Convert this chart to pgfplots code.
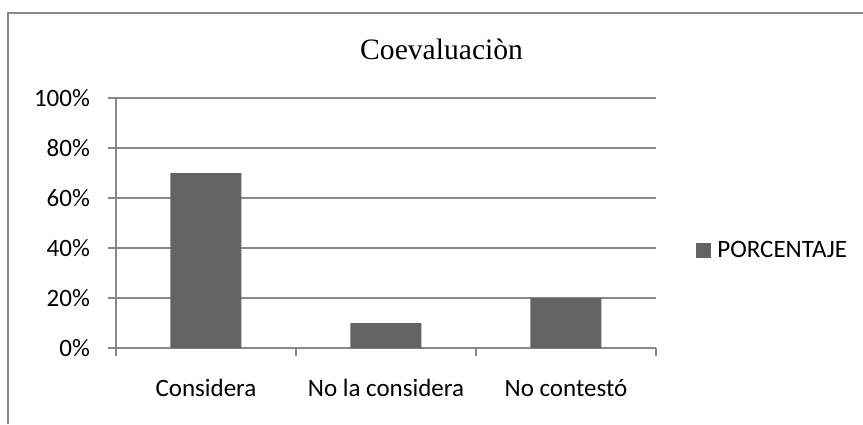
\documentclass[border=0pt]{standalone}
\usepackage{fontspec}
\setmainfont{Carlito}
\newfontfamily\titlefont{Liberation Serif}
\usepackage{pgfplots}
\pgfplotsset{compat=1.18}
\definecolor{barc}{HTML}{636363}
\definecolor{gridc}{HTML}{888888}
\begin{document}
\begin{tikzpicture}
\useasboundingbox (0,0) rectangle (431.5pt,212pt);
\draw[gridc, line width=1pt] (4pt,0pt) -- (4pt,205.5pt) -- (431.5pt,205.5pt);
\node[font=\titlefont\fontsize{14.8}{17}\selectfont] at (220.8pt,187.5pt) {Coevaluaciòn};
\begin{axis}[
  at={(58pt,38pt)}, anchor=south west,
  scale only axis, width=270pt, height=125pt,
  xmin=-0.5, xmax=2.5, ymin=0, ymax=100,
  ybar, bar width=35.5pt,
  xtick={-0.5,0.5,1.5,2.5},
  x tick label as interval,
  xticklabels={Considera,No la considera,No contestó},
  ytick={0,20,40,60,80,100},
  yticklabels={0\%,20\%,40\%,60\%,80\%,100\%},
  tick align=outside, tick pos=left,
  major tick length=4pt,
  ymajorgrids,
  grid style={gridc, line width=0.6pt},
  axis x line*=bottom, axis y line*=left,
  axis line style={gridc, line width=0.6pt, -},
  tick style={gridc, line width=0.6pt},
  ticklabel style={font=\fontsize{12.5}{14}\selectfont},
  yticklabel style={xshift=-5.5pt},
  xticklabel style={yshift=-8pt},
  /pgf/number format/assume math mode=true,
  legend style={at={(1.074,0.39)}, anchor=west, draw=none, fill=none,
    font=\fontsize{12.5}{14}\selectfont, inner sep=0pt, legend cell align=left},
]
\addplot[fill=barc, draw=none,
  legend image code/.code={\fill[barc] (0pt,-3.75pt) rectangle (7.5pt,3.75pt); \path (8.5pt,0pt);}]
  coordinates {(0,70) (1,10) (2,20)};
\addlegendentry{PORCENTAJE}
\end{axis}
\end{tikzpicture}
\end{document}
